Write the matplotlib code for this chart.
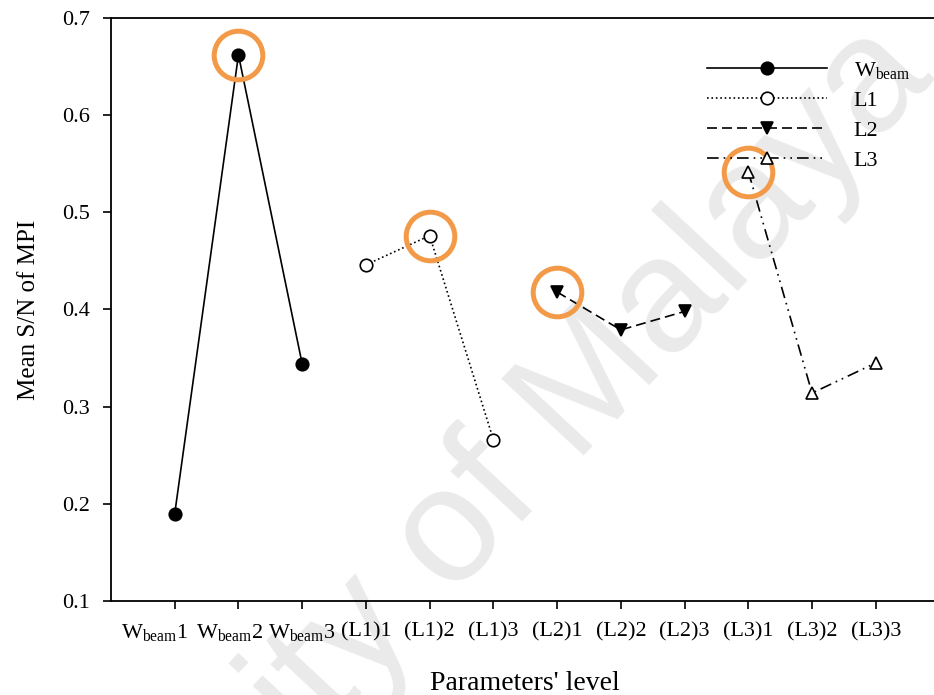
import matplotlib
matplotlib.use("Agg")
import matplotlib.pyplot as plt
from matplotlib.lines import Line2D
from matplotlib.transforms import ScaledTranslation

plt.rcParams["font.family"] = ["Liberation Serif", "DejaVu Serif"]
plt.rcParams["mathtext.fontset"] = "custom"
plt.rcParams["mathtext.rm"] = "Liberation Serif"
plt.rcParams["mathtext.it"] = "Liberation Serif:italic"

# Parameter levels along the x axis
levels = [r"W$_{\mathrm{beam}}$1", r"W$_{\mathrm{beam}}$2", r"W$_{\mathrm{beam}}$3",
          "(L1)1", "(L1)2", "(L1)3",
          "(L2)1", "(L2)2", "(L2)3",
          "(L3)1", "(L3)2", "(L3)3"]

# Mean S/N of MPI for each factor
wbeam = [0.190, 0.662, 0.344]
l1 = [0.446, 0.476, 0.266]
l2 = [0.418, 0.379, 0.398]
l3 = [0.542, 0.314, 0.345]

# Optimal level of each factor (index into levels)
optimal_idx = [1, 4, 6, 9]

fig = plt.figure(figsize=(9.34, 6.95), dpi=100)
W, H = 934, 695
ax = fig.add_axes([111 / W, 1 - 601 / H, (939.5 - 111) / W, (601 - 18) / H])
ax.set_zorder(1)
ax.patch.set_alpha(0)

# watermark
fig.text(905 / W, 1 - 50 / H, "University of Malaya", fontsize=118,
         family="Liberation Sans", color="#eaeaea", rotation=47,
         rotation_mode="anchor", ha="right", va="center", zorder=0)

lw = 1.2
ms = 9
series = [
    (wbeam, [0, 1, 2], dict(ls="-", marker="o", mfc="black", mec="black"), r"W$_{\mathrm{beam}}$"),
    (l1, [3, 4, 5], dict(ls=":", marker="o", mfc="white", mec="black"), "L1"),
    (l2, [6, 7, 8], dict(ls=(0, (6, 3)), marker="v", mfc="black", mec="black"), "L2"),
    (l3, [9, 10, 11], dict(ls=(0, (7, 3, 1, 3, 1, 3)), marker="^", mfc="white", mec="black"), "L3"),
]
handles = []
all_vals = wbeam + l1 + l2 + l3
for vals, xs, style, name in series:
    ax.plot(xs, vals, color="black", lw=lw, ms=ms, mew=1.2, zorder=3, **style)
    handles.append(Line2D([], [], color="black", lw=lw, ms=ms, mew=1.2, label=name, **style))

# highlight circles on the best level of each factor
ax.plot(optimal_idx, [all_vals[i] for i in optimal_idx], ls="none", marker="o",
        ms=35, mfc="none", mec="#f39a48", mew=3.6, zorder=4)

ax.set_xlim(-1, 12)
ax.set_ylim(0.1, 0.7)
ax.set_yticks([0.1, 0.2, 0.3, 0.4, 0.5, 0.6, 0.7])
ax.set_xticks(range(len(levels)))
ax.set_xticklabels(levels, fontsize=16)
ax.tick_params(axis="y", labelsize=16, direction="out", length=6, width=1.2, pad=9)
ax.tick_params(axis="x", direction="out", length=6, width=1.2, pad=9)
for s in ("left", "bottom", "top"):
    ax.spines[s].set_linewidth(1.3)
ax.spines["right"].set_visible(False)

# nudge the crowded W_beam labels leftwards
for lab, dx in zip(ax.get_xticklabels()[:3], (-20, -9, 0)):
    lab.set_transform(lab.get_transform() + ScaledTranslation(dx / 100, 0, fig.dpi_scale_trans))

ax.set_xlabel("Parameters' level", fontsize=20, labelpad=20)
ax.set_ylabel("Mean S/N of MPI", fontsize=18, labelpad=16)

leg = fig.legend(handles=handles, loc="upper left", bbox_to_anchor=(707 / W, 1 - 60 / H),
                 frameon=False, fontsize=16, handlelength=5.4, handletextpad=1.2,
                 labelspacing=0.42, borderpad=0, borderaxespad=0)

fig.savefig("out.png", dpi=100)
